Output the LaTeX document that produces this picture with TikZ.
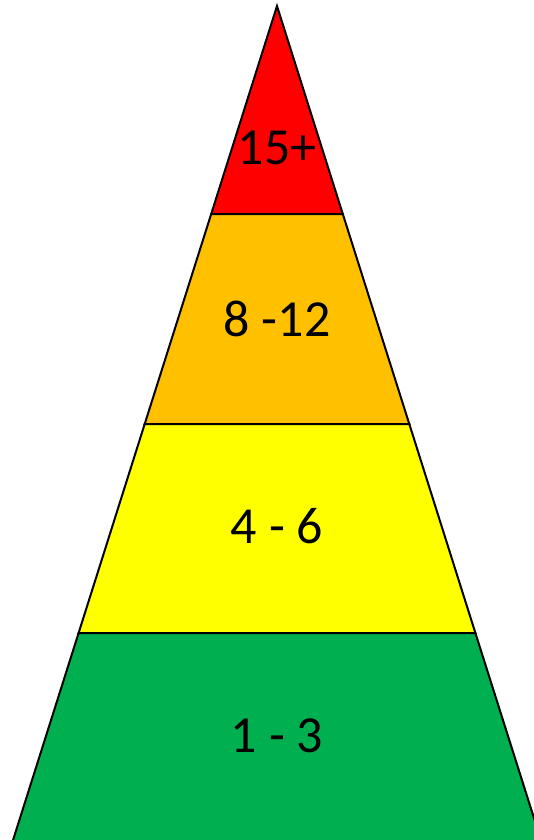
\documentclass[tikz,border=0pt]{standalone}
\usepackage{fontspec}
\setmainfont{Carlito}
\tikzset{every picture/.style={line width=1.5pt}}
\tikzset{
  band/.style={draw=black, line join=miter},
  bandlabel/.style={inner sep=0pt, anchor=center, font=\fontsize{39}{47}\selectfont}
}
\definecolor{topred}{RGB}{255,0,0}
\definecolor{midorange}{RGB}{255,192,0}
\definecolor{midyellow}{RGB}{255,255,0}
\definecolor{basegreen}{RGB}{0,176,80}

\begin{document}
\begin{tikzpicture}[x=0.75pt,y=0.75pt,yscale=-1,xscale=1]
\useasboundingbox (0,0) rectangle (533,840);

%Shape: Triangle [id:top]
\draw [band, fill=topred] (277,6) -- (342.8,214) -- (211.2,214) -- cycle ;
%Shape: Trapezoid [id:second]
\draw [band, fill=midorange] (211.2,214) -- (342.8,214) -- (409.3,424) -- (144.7,424) -- cycle ;
%Shape: Trapezoid [id:third]
\draw [band, fill=midyellow] (144.7,424) -- (409.3,424) -- (475.4,633) -- (78.6,633) -- cycle ;
%Shape: Trapezoid [id:base] (runs past the lower edge)
\draw [band, fill=basegreen] (78.6,633) -- (475.4,633) -- (544.1,850) -- (9.9,850) -- cycle ;

% Text Node
\node [bandlabel] (top) at (277,147.5) {15+};
% Text Node
\node [bandlabel] (second) at (277,318.5) {8 -12};
% Text Node
\node [bandlabel] (third) at (277,526.5) {4 - 6};
% Text Node
\node [bandlabel] (base) at (277,736) {1 - 3};

\end{tikzpicture}
\end{document}
